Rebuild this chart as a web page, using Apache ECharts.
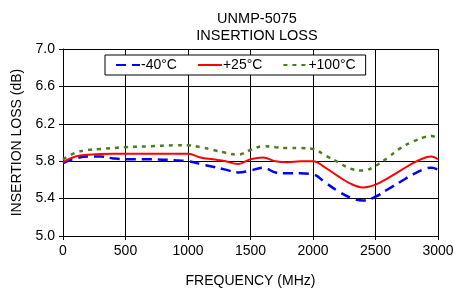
<!DOCTYPE html>
<html>
<head>
<meta charset="utf-8">
<script src="https://cdn.jsdelivr.net/npm/echarts@6/dist/echarts.min.js"></script>
<style>
  html, body { margin: 0; padding: 0; background: #fff; }
  #chart { width: 453px; height: 291px; }
</style>
</head>
<body>
<div id="chart"></div>
<script>
// frequency points (MHz) and insertion loss (dB)
const freqM40 = [0, 100, 200, 300, 400, 500, 700, 900, 1000, 1100, 1200, 1300, 1400, 1500, 1600, 1700, 1800, 1900, 2000, 2100, 2200, 2300, 2400, 2500, 2600, 2700, 2800, 2900, 2950, 3000];
const lossM40 = [5.78, 5.83, 5.85, 5.85, 5.83, 5.82, 5.82, 5.81, 5.80, 5.77, 5.74, 5.71, 5.68, 5.70, 5.73, 5.68, 5.67, 5.67, 5.66, 5.57, 5.48, 5.41, 5.38, 5.42, 5.50, 5.58, 5.66, 5.72, 5.73, 5.71];

const freqP25 = [0, 100, 200, 400, 600, 800, 1000, 1100, 1200, 1300, 1400, 1500, 1600, 1700, 1800, 1900, 2000, 2100, 2200, 2300, 2400, 2500, 2600, 2700, 2800, 2900, 2950, 3000];
const lossP25 = [5.79, 5.85, 5.87, 5.88, 5.88, 5.88, 5.88, 5.84, 5.82, 5.80, 5.77, 5.82, 5.84, 5.80, 5.79, 5.80, 5.80, 5.73, 5.64, 5.56, 5.52, 5.55, 5.62, 5.70, 5.78, 5.84, 5.85, 5.82];

const freqP100 = [0, 100, 200, 300, 500, 700, 900, 1000, 1100, 1200, 1300, 1400, 1500, 1600, 1700, 1800, 1900, 2000, 2100, 2200, 2300, 2400, 2500, 2600, 2700, 2800, 2900, 2950, 3000];
const lossP100 = [5.82, 5.89, 5.92, 5.93, 5.95, 5.96, 5.97, 5.97, 5.95, 5.92, 5.89, 5.87, 5.92, 5.96, 5.95, 5.94, 5.94, 5.93, 5.86, 5.79, 5.72, 5.70, 5.75, 5.84, 5.94, 6.01, 6.06, 6.07, 6.04];

const seriesNames = ['-40°C', '+25°C', '+100°C'];

const font = 'Liberation Sans, Arial, sans-serif';

function pairs(xs, ys) {
  return xs.map((x, i) => [x, ys[i]]);
}

const chart = echarts.init(document.getElementById('chart'), null, { renderer: 'canvas' });

chart.setOption({
  backgroundColor: '#fff',
  animation: false,
  title: {
    text: 'UNMP-5075\nINSERTION LOSS',
    left: 252,
    textAlign: 'center',
    top: 5,
    textStyle: { fontFamily: font, fontSize: 14.5, fontWeight: 'normal', color: '#000', lineHeight: 17 }
  },
  legend: {
    data: seriesNames,
    left: 105,
    top: 55,
    padding: [3, 10, 3, 10],
    itemWidth: 24,
    itemHeight: 10,
    itemGap: 20,
    borderColor: '#000',
    borderWidth: 1,
    backgroundColor: '#fff',
    itemStyle: { opacity: 0 },
    textStyle: { fontFamily: font, fontSize: 14, color: '#000', padding: [0, 0, 0, -4] }
  },
  grid: { left: 63, right: 15, top: 49, bottom: 55, outerBoundsMode: 'none' },
  xAxis: {
    type: 'value',
    min: 0,
    max: 3000,
    interval: 500,
    name: 'FREQUENCY (MHz)',
    nameLocation: 'middle',
    nameGap: 38,
    nameTextStyle: { fontFamily: font, fontSize: 14, color: '#000' },
    axisLine: { show: true, lineStyle: { color: '#000', width: 1 } },
    axisTick: { show: true, length: 4, lineStyle: { color: '#000' } },
    axisLabel: { fontFamily: font, fontSize: 14, color: '#000', margin: 8, formatter: v => String(v) },
    splitLine: { show: true, lineStyle: { color: '#000', width: 1 } }
  },
  yAxis: {
    type: 'value',
    min: 5.0,
    max: 7.0,
    interval: 0.4,
    name: 'INSERTION LOSS (dB)',
    nameLocation: 'middle',
    nameGap: 34,
    nameTextStyle: { fontFamily: font, fontSize: 14, color: '#000' },
    axisLine: { show: true, lineStyle: { color: '#000', width: 1 } },
    axisTick: { show: true, length: 4, lineStyle: { color: '#000' } },
    axisLabel: {
      fontFamily: font, fontSize: 14, color: '#000', margin: 8,
      formatter: v => v.toFixed(1)
    },
    splitLine: { show: true, lineStyle: { color: '#000', width: 1 } }
  },
  series: [
    {
      name: seriesNames[0],
      type: 'line',
      data: pairs(freqM40, lossM40),
      smooth: 0.4,
      symbol: 'none',
      color: '#0000ff',
      lineStyle: { color: '#0000ff', width: 2.5, type: [10, 6] }
    },
    {
      name: seriesNames[1],
      type: 'line',
      data: pairs(freqP25, lossP25),
      smooth: 0.4,
      symbol: 'none',
      color: '#ff0000',
      lineStyle: { color: '#ff0000', width: 2 }
    },
    {
      name: seriesNames[2],
      type: 'line',
      data: pairs(freqP100, lossP100),
      smooth: 0.4,
      symbol: 'none',
      color: '#4a7d24',
      lineStyle: { color: '#4a7d24', width: 2.5, type: [4, 5] }
    }
  ]
});
</script>
</body>
</html>
